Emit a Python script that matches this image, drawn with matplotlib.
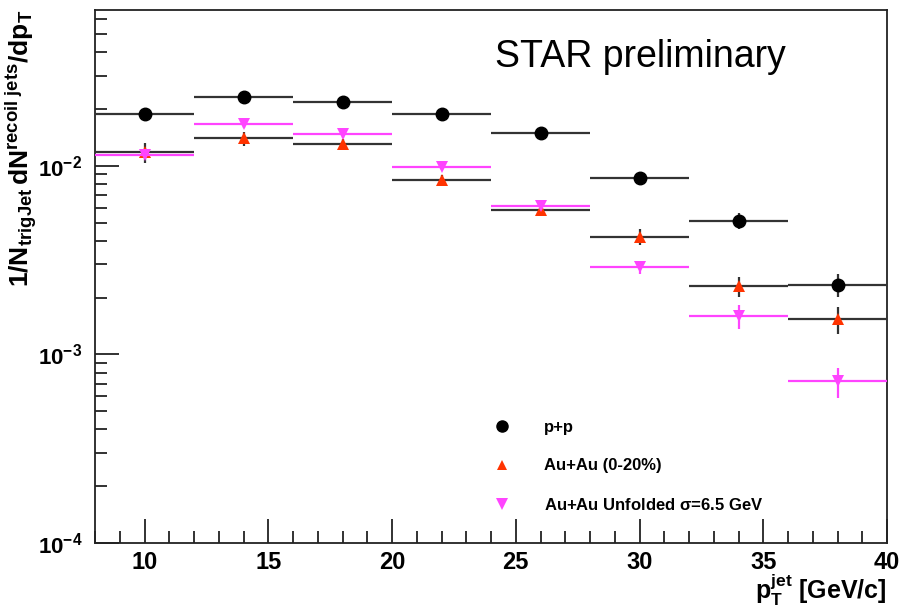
import math
import matplotlib
matplotlib.use("Agg")
import matplotlib.pyplot as plt
from matplotlib.lines import Line2D
from matplotlib.ticker import LogLocator, FixedLocator, MultipleLocator, FuncFormatter, NullFormatter

# ---------------- data ----------------
pt_centers = [10, 14, 18, 22, 26, 30, 34, 38]
pt_halfwidth = [2, 2, 2, 2, 2, 2, 2, 2]

pp_vals = [0.0189, 0.0233, 0.0217, 0.0189, 0.0150, 0.0086, 0.0051, 0.00234]
pp_errs = [0.0007, 0.0009, 0.0008, 0.0006, 0.0004, 0.0002, 0.0005, 0.00033]

auau_vals = [0.0118, 0.0140, 0.0131, 0.0084, 0.0058, 0.0042, 0.0023, 0.00154]
auau_errs = [0.0014, 0.0012, 0.0008, 0.0005, 0.0003, 0.0004, 0.00028, 0.00025]

unf_vals = [0.0114, 0.0167, 0.0148, 0.0099, 0.0061, 0.0029, 0.0016, 0.00072]
unf_errs = [0.0006, 0.0008, 0.0007, 0.0004, 0.0003, 0.00022, 0.00023, 0.00013]

labels = ["p+p", "Au+Au (0-20%)", r"Au+Au Unfolded $\mathbf{\sigma}$=6.5 GeV"]
x_ticks = [10, 15, 20, 25, 30, 35, 40]

# ---------------- style ----------------
plt.rcParams['font.family'] = ['Liberation Sans', 'DejaVu Sans']
plt.rcParams['mathtext.fontset'] = 'custom'
plt.rcParams['mathtext.rm'] = 'Liberation Sans'
plt.rcParams['mathtext.it'] = 'Liberation Sans:italic'
plt.rcParams['mathtext.bf'] = 'Liberation Sans:bold'
plt.rcParams['mathtext.sf'] = 'Liberation Sans:bold'

boldf = dict(family=['Liberation Sans', 'DejaVu Sans'], weight='bold')

fig = plt.figure(figsize=(9.01, 6.10), dpi=100)
ax = fig.add_axes([95/901, 1-543/610, (887-95)/901, (543-10)/610])

line_c = '#333333'
red_c = '#ff3300'
mag_c = '#ff44ff'

ax.errorbar(pt_centers, pp_vals, xerr=pt_halfwidth, yerr=pp_errs, fmt='o', color='black',
            ecolor=line_c, elinewidth=1.6, ms=9, capsize=0, zorder=3)
ax.errorbar(pt_centers, auau_vals, xerr=pt_halfwidth, yerr=auau_errs, fmt='^', color=red_c,
            ecolor=line_c, elinewidth=1.6, ms=8, mew=0, capsize=0, zorder=4)
ax.errorbar(pt_centers, unf_vals, xerr=pt_halfwidth, yerr=unf_errs, fmt='v', color=mag_c,
            ecolor=mag_c, elinewidth=1.6, ms=9, mew=0, capsize=0, zorder=5)

ax.set_yscale('log')
ax.set_xlim(8, 40)
ax.set_ylim(1e-4, 0.067)

ax.xaxis.set_major_locator(FixedLocator(x_ticks))
ax.xaxis.set_minor_locator(MultipleLocator(1))
ax.yaxis.set_major_locator(LogLocator(base=10, numticks=10))
ax.yaxis.set_minor_locator(LogLocator(base=10, subs=range(2, 10), numticks=20))
ax.yaxis.set_minor_formatter(NullFormatter())
ax.yaxis.set_major_formatter(FuncFormatter(lambda v, p: r'$\mathsf{10^{%d}}$' % round(math.log10(v))))

ax.tick_params(axis='both', which='both', direction='in', top=False, right=False, color='#222222', width=1.3)
ax.tick_params(axis='both', which='major', length=17)
ax.tick_params(axis='both', which='minor', length=8.5)
ax.tick_params(axis='x', which='major', pad=6)
ax.tick_params(axis='y', which='major', pad=9)
ax.set_xticks(x_ticks)
ax.set_xticklabels([str(t) for t in x_ticks], fontsize=17, **boldf)
for lab in ax.get_yticklabels():
    lab.set_fontsize(16)
for sp in ax.spines.values():
    sp.set_linewidth(1.3)
    sp.set_color('#222222')

# legend
handles = [Line2D([], [], ls='none', marker='o', color='black', ms=8),
           Line2D([], [], ls='none', marker='^', color=red_c, ms=7, mew=0),
           Line2D([], [], ls='none', marker='v', color=mag_c, ms=8, mew=0)]
leg = fig.legend(handles, labels, loc='upper left', bbox_to_anchor=(494/901, 1-420/610),
                 frameon=False, handlelength=1.0, handletextpad=2.0, labelspacing=1.4,
                 borderpad=0, borderaxespad=0, prop=dict(family=['Liberation Sans', 'DejaVu Sans'], weight='bold', size=12))

ax.text(0.505, 0.912, 'STAR preliminary', transform=ax.transAxes, fontsize=27, ha='left', va='center')

fig.text(21/901, 1-10/610, r'$\mathbf{1/N_{trigJet}\,dN^{recoil\ jets}/dp_{T}}$', rotation=90,
         va='top', ha='center', fontsize=19)
fig.text(887/901, 1-599/610, r'$\mathsf{p_{T}^{jet}}$ [GeV/c]', ha='right', va='baseline',
         fontsize=18, **boldf)

fig.savefig('out.png', dpi=100)
